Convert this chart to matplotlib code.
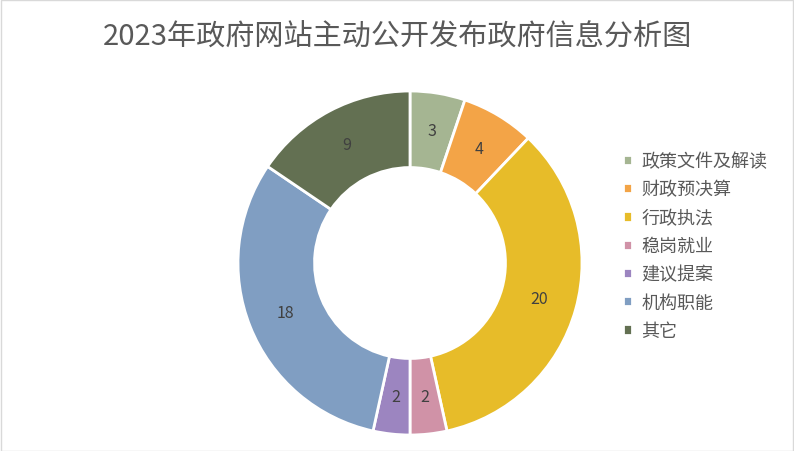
import matplotlib
matplotlib.use('Agg')
from matplotlib import pyplot as plt
from matplotlib.patches import Rectangle

plt.rcParams['font.family'] = ['Noto Sans CJK SC', 'DejaVu Sans']

categories = ['政策文件及解读', '财政预决算', '行政执法', '稳岗就业', '建议提案', '机构职能', '其它']
values = [3, 4, 20, 2, 2, 18, 9]
colors = ['#A5B592', '#F3A447', '#E7BC29', '#D092A7', '#9C85C0', '#809EC2', '#637052']
title = '2023年政府网站主动公开发布政府信息分析图'

W, H = 794, 452
fig = plt.figure(figsize=(W / 100, H / 100), dpi=100)

# light grey frame around the whole chart
fig.patches.append(Rectangle((0.5 / W, 0.5 / H), 1 - 1.5 / W, 1 - 1.5 / H,
                             transform=fig.transFigure, fill=False,
                             edgecolor='#D9D9D9', linewidth=1))

fig.text(397 / W, 1 - 38 / H, title, ha='center', va='center',
         fontsize=21, color='#595959')

cx, cy, r = 410, 264, 172
ax = fig.add_axes([(cx - r) / W, (H - cy - r) / H, 2 * r / W, 2 * r / H])
wedges, texts = ax.pie(values, colors=colors, startangle=90, counterclock=False,
                       radius=1.0, labels=[str(v) for v in values],
                       labeldistance=0.78,
                       wedgeprops=dict(width=0.445, edgecolor='white', linewidth=2),
                       textprops=dict(fontsize=11.5, color='#404040'))
for t in texts:
    t.set_ha('center')
    t.set_va('center')
ax.set_aspect('equal')
ax.set_xlim(-1, 1)
ax.set_ylim(-1, 1)

leg = fig.legend(wedges, categories, loc='upper left',
                 bbox_to_anchor=(607 / W, 1 - 137 / H), frameon=False,
                 fontsize=13, labelcolor='#595959', handlelength=0.5,
                 handleheight=0.5, handletextpad=0.5, labelspacing=0.57)

plt.savefig('out.png', dpi=100)
plt.close()
